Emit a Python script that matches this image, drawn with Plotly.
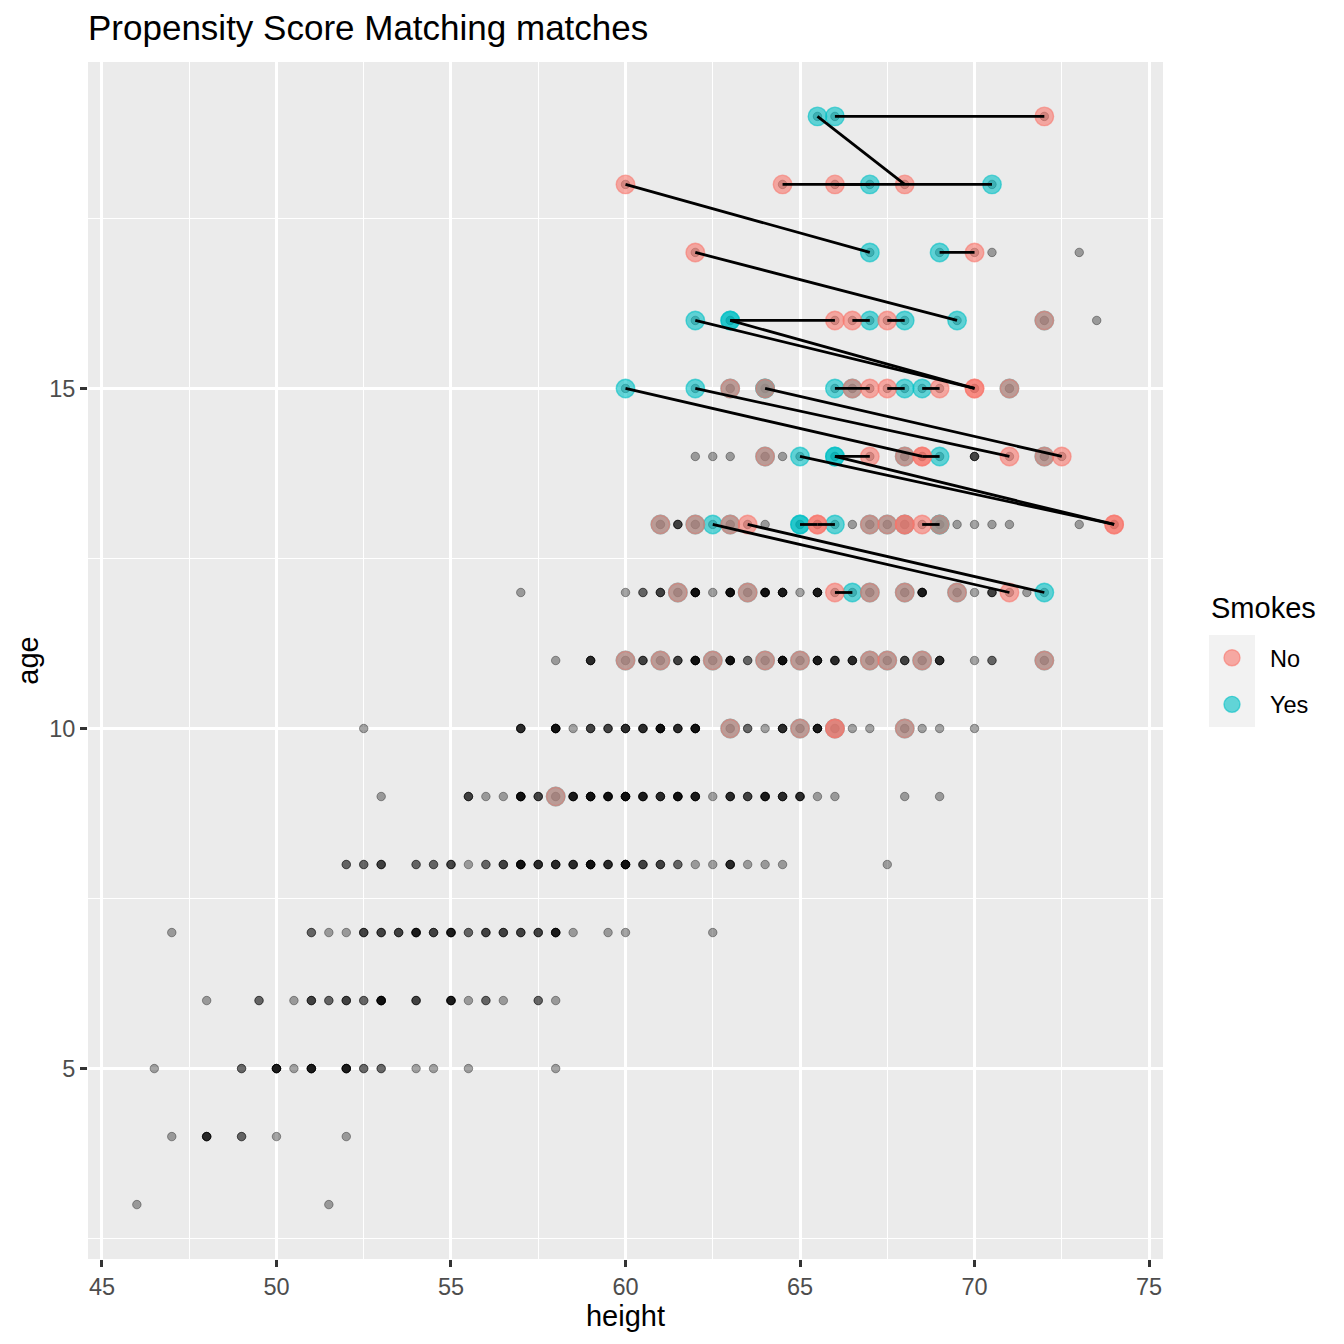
import plotly.graph_objects as go

# ---------------- data ----------------
chart_title = "Propensity Score Matching matches"
x_label = "height"
y_label = "age"
legend_title = "Smokes"
group_labels = ["No", "Yes"]
x_ticks = [45, 50, 55, 60, 65, 70, 75]
y_ticks = [5, 10, 15]

# all observations not in the matched set: age -> [(height, number of overlapping records)]
bg_rows = {
    3: [(46, 1), (51.5, 1)],
    4: [(47, 1), (48, 4), (49, 2), (50, 1), (52, 1)],
    5: [(46.5, 1), (49, 2), (50, 5), (50.5, 1), (51, 5), (52, 5), (52.5, 2), (53, 2),
        (54, 1), (54.5, 1), (55.5, 1), (58, 1)],
    6: [(48, 1), (49.5, 2), (50.5, 1), (51, 3), (51.5, 2), (52, 3), (52.5, 2), (53, 6),
        (54, 3), (55, 5), (55.5, 1), (56, 2), (56.5, 1), (57.5, 2), (58, 1)],
    7: [(47, 1), (51, 2), (51.5, 1), (52, 1), (52.5, 3), (53, 3), (53.5, 3), (54, 5),
        (54.5, 3), (55, 5), (55.5, 2), (56, 3), (56.5, 3), (57, 3), (57.5, 3), (58, 5),
        (58.5, 1), (59.5, 1), (60, 1), (62.5, 1)],
    8: [(52, 2), (52.5, 2), (53, 3), (54, 2), (54.5, 2), (55, 3), (55.5, 1), (56, 2),
        (56.5, 3), (57, 6), (57.5, 4), (58, 4), (58.5, 4), (59, 6), (59.5, 4), (60, 6),
        (60.5, 3), (61, 3), (61.5, 2), (62, 1), (62.5, 1), (63, 4), (63.5, 1), (64, 1),
        (64.5, 1), (67.5, 1)],
    9: [(53, 1), (55.5, 3), (56, 1), (56.5, 1), (57, 6), (57.5, 3), (58.5, 5), (59, 6),
        (59.5, 6), (60, 6), (60.5, 5), (61, 4), (61.5, 6), (62, 5), (62.5, 1), (63, 4),
        (63.5, 3), (64, 5), (64.5, 4), (65, 4), (65.5, 1), (66, 1), (68, 1), (69, 1)],
    10: [(52.5, 1), (57, 4), (58, 6), (58.5, 1), (59, 3), (59.5, 3), (60, 4), (60.5, 4),
         (61, 6), (61.5, 4), (62, 6), (63.5, 2), (64, 1), (64.5, 4), (65.5, 5), (66.5, 1),
         (67, 1), (68.5, 1), (69, 1), (70, 1)],
    11: [(58, 1), (59, 4), (60.5, 3), (61.5, 3), (62, 6), (63, 6), (63.5, 2), (64.5, 6),
         (65.5, 5), (66, 4), (66.5, 4), (68, 3), (69, 4), (70, 1), (70.5, 2)],
    12: [(57, 1), (60, 1), (60.5, 2), (61, 3), (62, 6), (62.5, 1), (63, 6), (64, 6),
         (64.5, 5), (65, 1), (65.5, 5), (68.5, 5), (70, 1), (70.5, 3), (71.5, 1)],
    13: [(61.5, 3), (64, 1), (66.5, 1), (69.5, 1), (70, 1), (70.5, 1), (71, 1), (73, 1)],
    14: [(62, 1), (62.5, 1), (63, 1), (64.5, 1), (70, 3)],
    16: [(73.5, 1)],
    17: [(70.5, 1), (73, 1)],
}

# matched smokers (Yes): age -> heights
yes_rows = {
    19: [65.5, 66],
    18: [67, 70.5],
    17: [67, 69],
    16: [62, 63, 63, 67, 68, 69.5, 72],
    15: [60, 62, 63, 64, 64, 66, 66.5, 68, 68.5, 71],
    14: [64, 65, 66, 66, 68, 69, 72],
    13: [61, 62, 62.5, 63, 65, 65, 66, 67, 67.5, 68, 69, 69],
    12: [61.5, 63.5, 66.5, 67, 68, 69.5, 72],
    11: [60, 61, 62.5, 64, 65, 67, 67.5, 68.5, 72],
    10: [63, 65, 66, 68],
    9: [58],
}

# matched non-smokers (No): age -> heights
no_rows = {
    19: [72],
    18: [60, 64.5, 66, 68],
    17: [62, 70],
    16: [66, 66.5, 67.5, 72],
    15: [63, 64, 66.5, 67, 67.5, 69, 70, 70, 71],
    14: [64, 67, 68, 68.5, 68.5, 71, 72, 72.5],
    13: [61, 62, 63, 63.5, 65.5, 65.5, 67, 67.5, 68, 68, 68.5, 69, 74, 74],
    12: [61.5, 63.5, 66, 67, 68, 69.5, 71],
    11: [60, 61, 62.5, 64, 65, 67, 67.5, 68.5, 72],
    10: [63, 65, 66, 66, 68],
    9: [58],
}

# matched pairs with distinct positions: (smoker height, smoker age, control height, control age)
pair_yes_h = [66, 65.5, 70.5, 67, 67, 69, 69.5, 63, 67, 68, 62, 63, 60, 62, 64, 66, 68, 68.5,
              66, 69, 65, 66, 65, 66, 69, 62.5, 72, 66.5]
pair_yes_a = [19, 19, 18, 18, 17, 17, 16, 16, 16, 16, 16, 16, 15, 15, 15, 15, 15, 15,
              14, 14, 14, 14, 13, 13, 13, 13, 12, 12]
pair_no_h = [72, 68, 64.5, 66, 60, 70, 62, 66, 66.5, 67.5, 70, 70, 68.5, 71, 72.5, 67, 67.5, 69,
             67, 68.5, 74, 74, 65.5, 65.5, 68.5, 71, 63.5, 66]
pair_no_a = [19, 18, 18, 18, 18, 17, 17, 16, 16, 16, 15, 15, 14, 14, 14, 15, 15, 15,
             14, 14, 13, 13, 13, 13, 13, 12, 13, 12]

# ---------------- build ----------------
def expand_rows(rows):
    xs, ys = [], []
    for age, hs in rows.items():
        for h in hs:
            xs.append(h)
            ys.append(age)
    return xs, ys

bg_x, bg_y = [], []
for age, items in bg_rows.items():
    for h, n in items:
        bg_x += [h] * n
        bg_y += [age] * n
yes_x, yes_y = expand_rows(yes_rows)
no_x, no_y = expand_rows(no_rows)

all_x = bg_x + yes_x + no_x
all_y = bg_y + yes_y + no_y

seg_x, seg_y = [], []
for x1, y1, x2, y2 in zip(pair_yes_h, pair_yes_a, pair_no_h, pair_no_a):
    seg_x += [x1, x2, None]
    seg_y += [y1, y2, None]

FONT = "Liberation Sans, Arial, Helvetica, sans-serif"
SALMON = "rgba(248,118,109,0.6)"
TEAL = "rgba(0,191,196,0.6)"

fig = go.Figure()
fig.add_trace(go.Scatter(
    x=all_x, y=all_y, mode="markers", showlegend=False, hoverinfo="skip",
    marker=dict(size=8.5, color="rgba(0,0,0,0.35)",
                line=dict(color="rgba(0,0,0,0.35)", width=1)),
))
fig.add_trace(go.Scatter(
    x=yes_x, y=yes_y, mode="markers", name=group_labels[1], legendrank=2,
    legendgroup="yes",
    marker=dict(size=18.5, color=TEAL, line=dict(color=TEAL, width=1.4)),
))
fig.add_trace(go.Scatter(
    x=no_x, y=no_y, mode="markers", name=group_labels[0], legendrank=1,
    legendgroup="no",
    marker=dict(size=18.5, color=SALMON, line=dict(color=SALMON, width=1.4)),
))
fig.add_trace(go.Scatter(
    x=seg_x, y=seg_y, mode="lines", showlegend=False, hoverinfo="skip",
    line=dict(color="black", width=2.8),
))

# page offset of the rendered figure (body margin) is compensated in the margins
OFF = 8
L, R, T, B = 88, 1163, 62, 1259
W = R - L
H = B - T

def px_x(p):
    return (p - L) / W

def px_y(p):
    return (B - p) / H

# grey key backgrounds like ggplot legend keys
shapes = []
for top in (635, 681):
    shapes.append(dict(type="rect", xref="paper", yref="paper",
                       x0=px_x(1209), x1=px_x(1255), y0=px_y(top + 46), y1=px_y(top),
                       fillcolor="#F2F2F2", line=dict(width=0), layer="below"))

annotations = [dict(text=legend_title, xref="paper", yref="paper",
                    x=px_x(1209), y=px_y(608), xanchor="left", yanchor="middle",
                    showarrow=False, font=dict(size=29, color="black", family=FONT))]

fig.update_layout(
    width=1344, height=1344,
    margin=dict(l=L - OFF, r=1344 - (L - OFF) - W, t=T - OFF, b=1344 - (T - OFF) - H,
                autoexpand=False),
    paper_bgcolor="white", plot_bgcolor="#EBEBEB",
    font=dict(family=FONT, color="black"),
    title=dict(text=chart_title, x=px_x(88), xref="paper", xanchor="left",
               y=1 - (28 - OFF) / 1344, yref="container", yanchor="middle",
               font=dict(size=35, color="black", family=FONT)),
    showlegend=True,
    legend=dict(
        font=dict(size=23.5, color="black"),
        x=px_x(1194), xanchor="left", y=px_y(636), yanchor="top",
        bgcolor="rgba(0,0,0,0)", tracegroupgap=13, itemsizing="trace", itemwidth=66,
    ),
    shapes=shapes,
    annotations=annotations,
    xaxis=dict(
        range=[44.6, 75.4], tickvals=x_ticks, ticktext=[str(v) for v in x_ticks],
        ticks="outside", ticklen=7, tickwidth=2.7, tickcolor="#333333",
        tickfont=dict(size=23.5, color="#4D4D4D", family=FONT),
        showgrid=True, gridcolor="white", gridwidth=2.7,
        minor=dict(tickvals=[47.5, 52.5, 57.5, 62.5, 67.5, 72.5], showgrid=True,
                   gridcolor="white", gridwidth=1.35, ticks=""),
        zeroline=False, showline=False,
        title=dict(text=x_label, font=dict(size=29, color="black", family=FONT), standoff=3),
    ),
    yaxis=dict(
        range=[2.2, 19.8], tickvals=y_ticks, ticktext=[str(v) for v in y_ticks],
        ticks="outside", ticklen=7, tickwidth=2.7, tickcolor="#333333",
        tickfont=dict(size=23.5, color="#4D4D4D", family=FONT),
        showgrid=True, gridcolor="white", gridwidth=2.7,
        minor=dict(tickvals=[2.5, 7.5, 12.5, 17.5], showgrid=True,
                   gridcolor="white", gridwidth=1.35, ticks=""),
        zeroline=False, showline=False,
        title=dict(text=y_label, font=dict(size=29, color="black", family=FONT), standoff=2),
    ),
)

fig.write_html("out.html")
